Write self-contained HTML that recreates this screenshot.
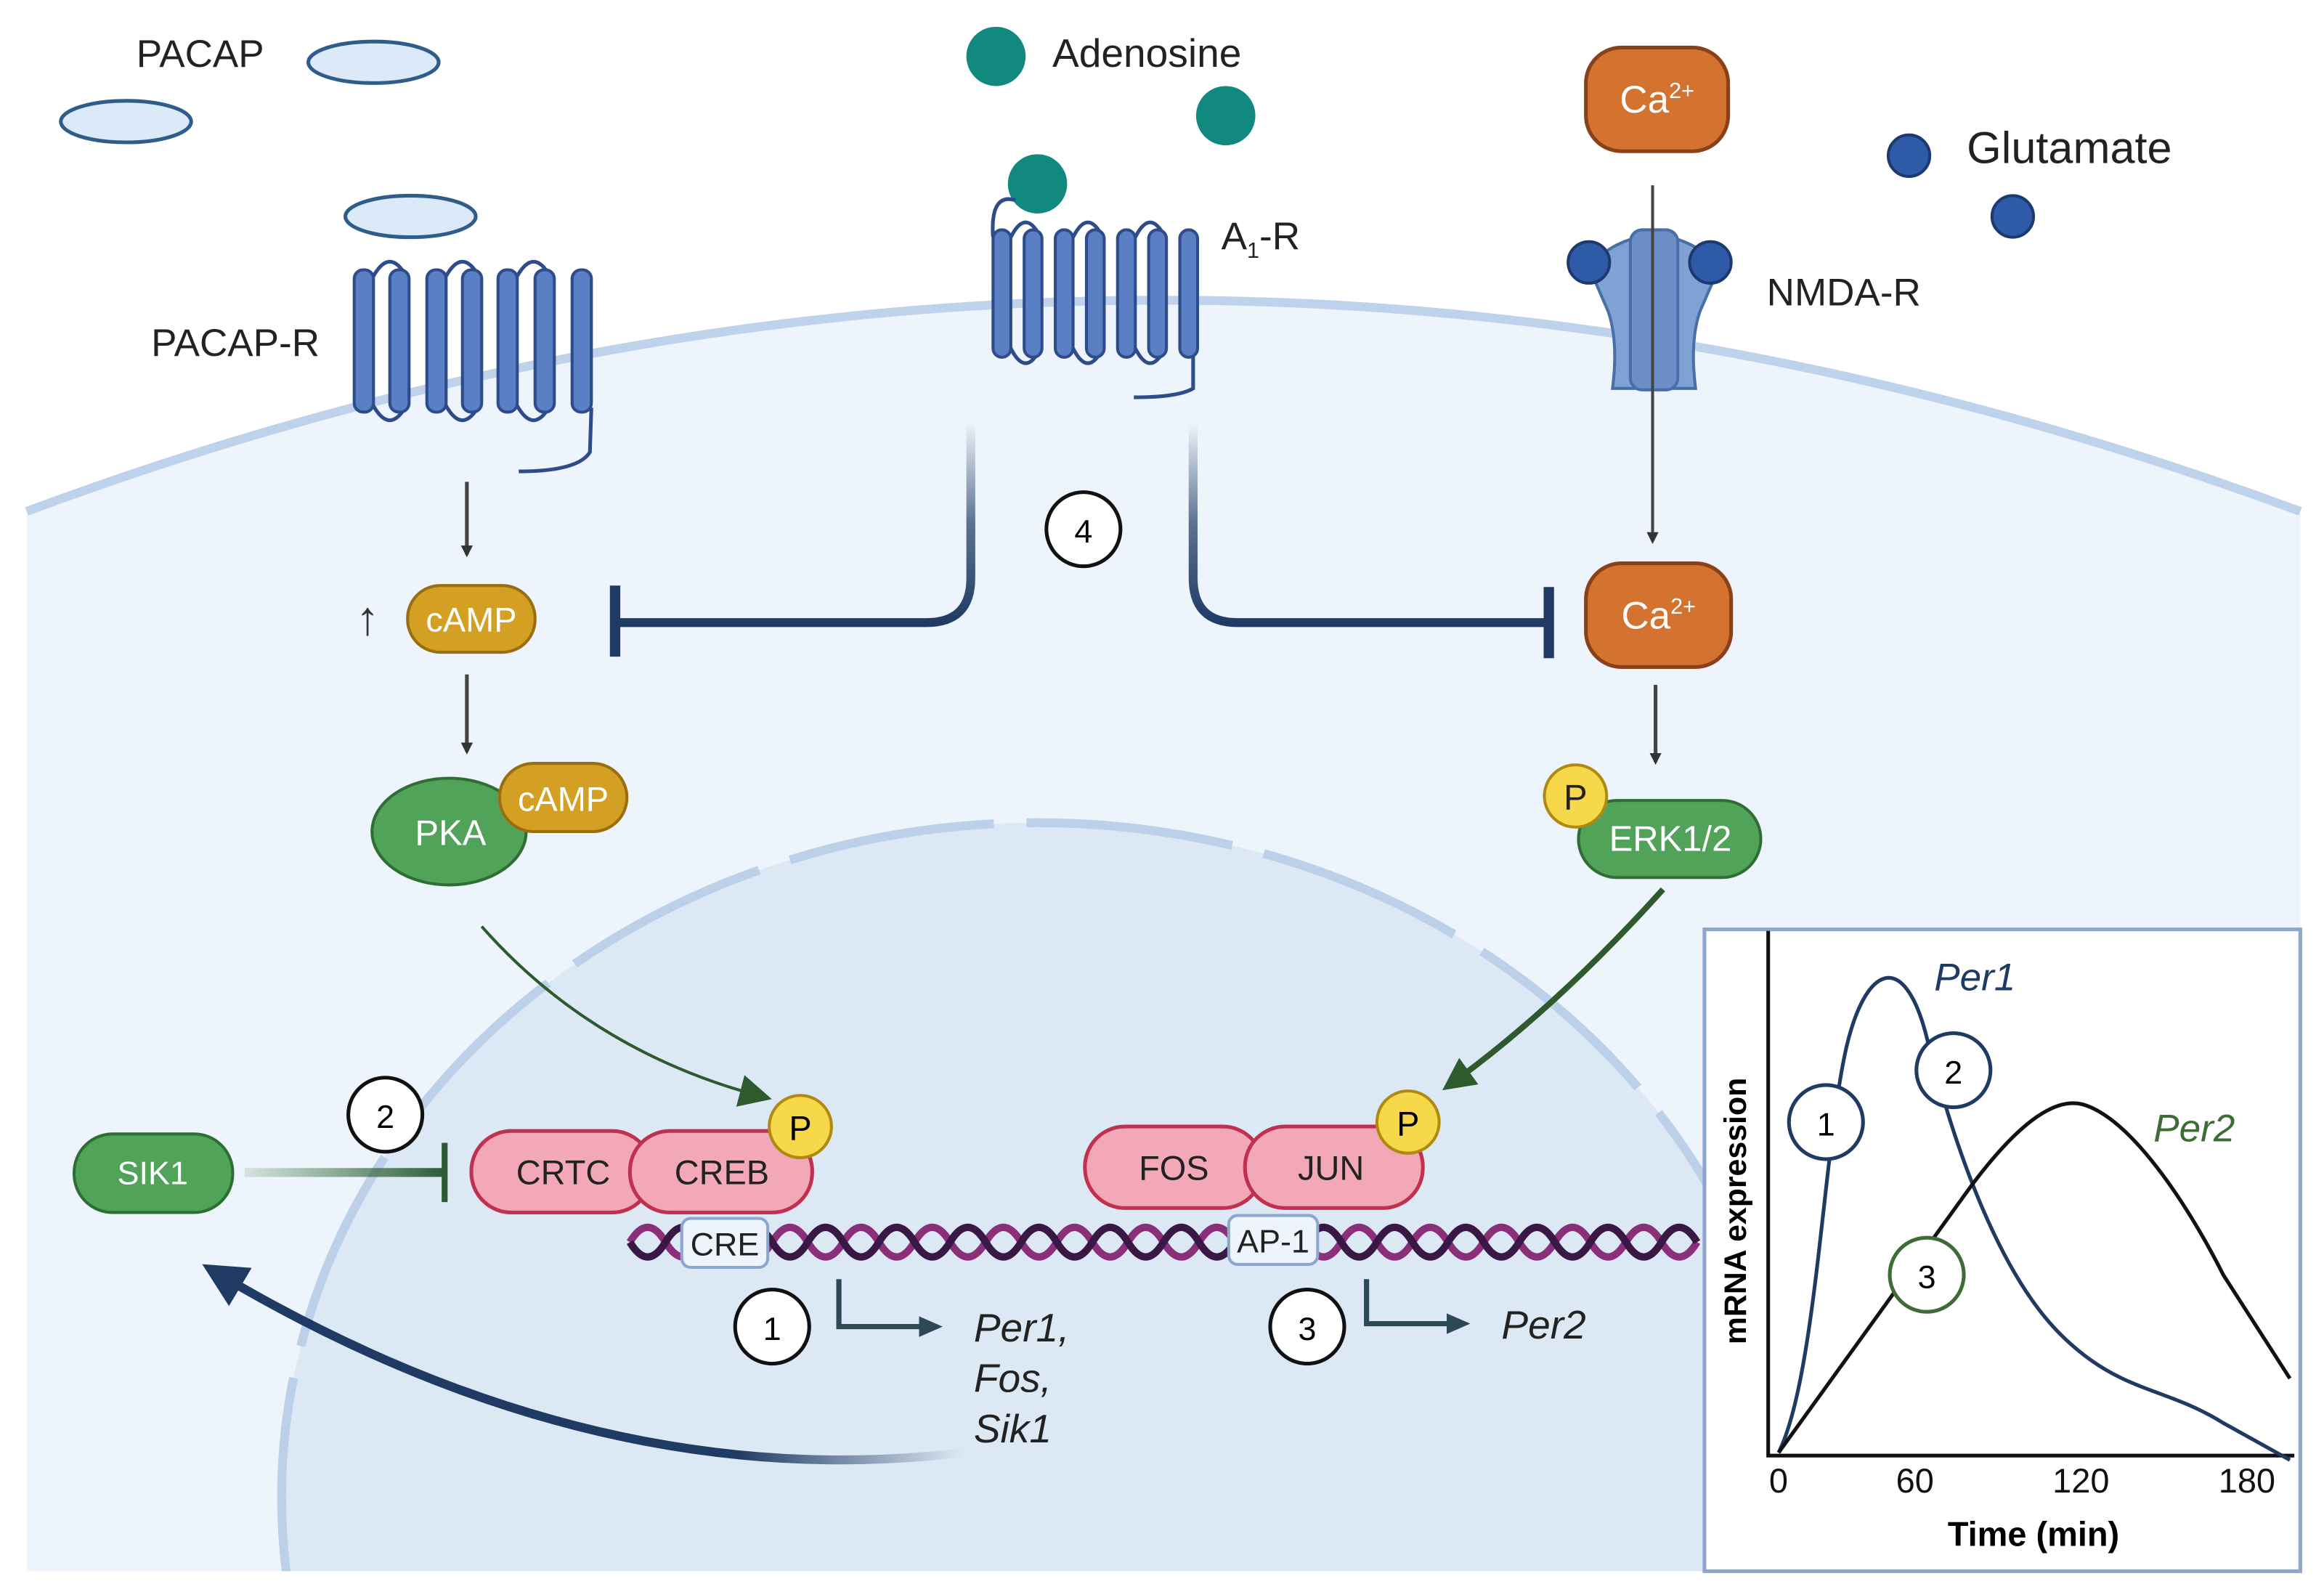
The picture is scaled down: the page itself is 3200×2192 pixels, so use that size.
<!DOCTYPE html>
<html><head><meta charset="utf-8"><style>html,body{margin:0;padding:0;background:#fff;overflow:hidden;width:3200px;height:2192px}svg{display:block}text{font-family:"Liberation Sans",sans-serif}</style></head><body>
<svg width="3200" height="2192" viewBox="0 0 1568 1074" xmlns="http://www.w3.org/2000/svg">
<defs>
<linearGradient id="fadeV" gradientUnits="userSpaceOnUse" x1="0" y1="285" x2="0" y2="420"><stop offset="0" stop-color="#1f3b63" stop-opacity="0"/><stop offset="0.5" stop-color="#1f3b63" stop-opacity="0.7"/><stop offset="1" stop-color="#1f3b63"/></linearGradient>
<linearGradient id="fadeS" gradientUnits="userSpaceOnUse" x1="165" y1="0" x2="300" y2="0"><stop offset="0" stop-color="#3e7a45" stop-opacity="0.15"/><stop offset="1" stop-color="#2e5a35"/></linearGradient>
<linearGradient id="fadeB" gradientUnits="userSpaceOnUse" x1="650" y1="0" x2="140" y2="0"><stop offset="0" stop-color="#1f3b63" stop-opacity="0"/><stop offset="0.3" stop-color="#1f3b63"/><stop offset="1" stop-color="#1f3b63"/></linearGradient>
<marker id="ah" markerWidth="8" markerHeight="8" refX="6" refY="4" orient="auto" markerUnits="userSpaceOnUse"><path d="M0,0 L8,4 L0,8 Z" fill="#333"/></marker>
<marker id="ahg" markerWidth="22" markerHeight="22" refX="16" refY="11" orient="auto" markerUnits="userSpaceOnUse"><path d="M0,0 L22,11 L0,22 Z" fill="#2e5a2e"/></marker>
<marker id="ahd" markerWidth="16" markerHeight="14" refX="12" refY="7" orient="auto" markerUnits="userSpaceOnUse"><path d="M0,0 L16,7 L0,14 Z" fill="#2b4a55"/></marker>
<marker id="ahn" markerWidth="30" markerHeight="30" refX="20" refY="15" orient="auto" markerUnits="userSpaceOnUse"><path d="M0,0 L30,15 L0,30 Z" fill="#1f3b63"/></marker>
<clipPath id="cell"><rect x="0" y="0" width="1568" height="1060"/></clipPath>
</defs>
<path d="M18,345 Q784,60 1552,345 L1552,1060 L18,1060 Z" fill="#eef4fc"/>
<path d="M18,345 Q784,60 1552,345" fill="none" stroke="#bed2ec" stroke-width="6"/>
<g clip-path="url(#cell)">
<ellipse cx="700" cy="1010" rx="510" ry="455" fill="#dde8f5" stroke="#bcd0ea" stroke-width="6" stroke-dasharray="140 22"/>
</g>
<text x="92" y="45" font-size="26" fill="#222">PACAP</text>
<ellipse cx="252" cy="42" rx="44" ry="14" fill="#dbe9f8" stroke="#2f5d8a" stroke-width="2.5"/>
<ellipse cx="85" cy="82" rx="44" ry="14" fill="#dbe9f8" stroke="#2f5d8a" stroke-width="2.5"/>
<ellipse cx="277" cy="146" rx="44" ry="14" fill="#dbe9f8" stroke="#2f5d8a" stroke-width="2.5"/>
<text x="102" y="240" font-size="26" fill="#222">PACAP-R</text>
<g stroke="#2e4b8a" stroke-width="2.5" fill="none">
<path d="M251,188 Q263,165 275,188 M300,188 Q312,165 324,188 M348,188 Q360,165 372,188"/>
<path d="M251,272 Q263,295 275,272 M300,272 Q312,295 324,272 M348,272 Q360,295 372,272"/>
<path d="M399,275 L398,305 Q390,318 350,318"/>
</g>
<g fill="#5b7fc4" stroke="#2e4b8a" stroke-width="2">
<rect x="239" y="182" width="13" height="96" rx="6"/><rect x="263" y="182" width="13" height="96" rx="6"/><rect x="288" y="182" width="13" height="96" rx="6"/><rect x="312" y="182" width="13" height="96" rx="6"/><rect x="336" y="182" width="13" height="96" rx="6"/><rect x="361" y="182" width="13" height="96" rx="6"/><rect x="386" y="182" width="13" height="96" rx="6"/>
</g>
<circle cx="672" cy="38" r="20" fill="#12897f"/>
<circle cx="827" cy="78" r="20" fill="#12897f"/>
<circle cx="700" cy="124" r="20" fill="#12897f"/>
<text x="710" y="45" font-size="27" fill="#222">Adenosine</text>
<text x="824" y="168" font-size="26" fill="#222">A<tspan font-size="15" dy="6">1</tspan><tspan dy="-6">-R</tspan></text>
<g stroke="#2e4b8a" stroke-width="2.5" fill="none">
<path d="M670,160 Q668,130 685,135"/>
<path d="M682,160 Q692,140 702,160 M724,160 Q734,140 744,160 M766,160 Q776,140 786,160"/>
<path d="M682,235 Q692,255 702,235 M724,235 Q734,255 744,235 M766,235 Q776,255 786,235"/>
<path d="M805,238 L805,262 Q795,268 765,268"/>
</g>
<g fill="#5b7fc4" stroke="#2e4b8a" stroke-width="2">
<rect x="670" y="155" width="12" height="86" rx="6"/><rect x="691" y="155" width="12" height="86" rx="6"/><rect x="712" y="155" width="12" height="86" rx="6"/><rect x="733" y="155" width="12" height="86" rx="6"/><rect x="754" y="155" width="12" height="86" rx="6"/><rect x="775" y="155" width="12" height="86" rx="6"/><rect x="796" y="155" width="12" height="86" rx="6"/>
</g>
<rect x="1070" y="32" width="96" height="70" rx="24" fill="#d4732f" stroke="#8a4018" stroke-width="2.5"/>
<text x="1118" y="76" font-size="26" fill="#fff" text-anchor="middle">Ca<tspan font-size="15" dy="-10">2+</tspan></text>
<circle cx="1288" cy="105" r="14" fill="#2f5aa8" stroke="#1c3a70" stroke-width="2"/>
<circle cx="1358" cy="146" r="14" fill="#2f5aa8" stroke="#1c3a70" stroke-width="2"/>
<text x="1327" y="110" font-size="30" fill="#222">Glutamate</text>
<text x="1192" y="206" font-size="26" fill="#222">NMDA-R</text>
<g fill="#7fa2d4" stroke="#4a6ea8" stroke-width="2">
<path d="M1072,180 Q1085,165 1105,160 L1105,262 L1088,262 Q1092,230 1085,210 Z"/>
<path d="M1160,180 Q1147,165 1127,160 L1127,262 L1144,262 Q1140,230 1147,210 Z"/>
<rect x="1100" y="155" width="32" height="108" rx="8" fill="#6b8fc6"/>
</g>
<circle cx="1072" cy="177" r="14" fill="#2f5aa8" stroke="#1c3a70" stroke-width="2"/>
<circle cx="1154" cy="177" r="14" fill="#2f5aa8" stroke="#1c3a70" stroke-width="2"/>
<line x1="1115" y1="125" x2="1115" y2="365" stroke="#444" stroke-width="2" marker-end="url(#ah)"/>
<rect x="1070" y="380" width="98" height="70" rx="24" fill="#d4732f" stroke="#8a4018" stroke-width="2.5"/>
<text x="1119" y="424" font-size="26" fill="#fff" text-anchor="middle">Ca<tspan font-size="15" dy="-10">2+</tspan></text>
<line x1="1117" y1="462" x2="1117" y2="514" stroke="#444" stroke-width="2.5" marker-end="url(#ah)"/>
<line x1="315" y1="325" x2="315" y2="374" stroke="#444" stroke-width="2.5" marker-end="url(#ah)"/>
<text x="240" y="428" font-size="32" fill="#333">↑</text>
<rect x="275" y="395" width="86" height="45" rx="22" fill="#d4a023" stroke="#9a6e10" stroke-width="2"/>
<text x="318" y="426" font-size="23" fill="#fff" text-anchor="middle">cAMP</text>
<line x1="315" y1="455" x2="315" y2="507" stroke="#444" stroke-width="2.5" marker-end="url(#ah)"/>
<ellipse cx="303" cy="561" rx="52" ry="36" fill="#52a35a" stroke="#2e6e35" stroke-width="2"/>
<text x="304" y="570" font-size="24" fill="#fff" text-anchor="middle">PKA</text>
<rect x="337" y="515" width="86" height="46" rx="23" fill="#d4a023" stroke="#9a6e10" stroke-width="2"/>
<text x="380" y="547" font-size="23" fill="#fff" text-anchor="middle">cAMP</text>
<rect x="1065" y="540" width="123" height="52" rx="26" fill="#52a35a" stroke="#2e6e35" stroke-width="2"/>
<text x="1127" y="574" font-size="24" fill="#fff" text-anchor="middle">ERK1/2</text>
<circle cx="1063" cy="537" r="21" fill="#f7d84a" stroke="#b08a10" stroke-width="2"/>
<text x="1063" y="546" font-size="24" fill="#222" text-anchor="middle">P</text>
<path d="M655,285 L655,390 Q655,420 625,420 L415,420" fill="none" stroke="url(#fadeV)" stroke-width="6"/>
<line x1="415" y1="395" x2="415" y2="443" stroke="#1f3b63" stroke-width="7"/>
<path d="M805,285 L805,390 Q805,420 835,420 L1045,420" fill="none" stroke="url(#fadeV)" stroke-width="6"/>
<line x1="1045" y1="396" x2="1045" y2="444" stroke="#1f3b63" stroke-width="7"/>
<circle cx="731" cy="357" r="25" fill="#fff" stroke="#111" stroke-width="2.5"/>
<text x="731" y="366" font-size="22" text-anchor="middle">4</text>
<path d="M325,625 Q400,710 515,740" fill="none" stroke="#2e5a2e" stroke-width="2" marker-end="url(#ahg)"/>
<path d="M1122,600 Q1050,680 978,732" fill="none" stroke="#2e5a2e" stroke-width="4" marker-end="url(#ahg)"/>
<g fill="none" stroke-width="5">
<path d="M425,838 Q437,818 449,838 T473,838 T497,838 T521,838 T545,838 T569,838 T593,838 T617,838 T641,838 T665,838 T689,838 T713,838 T737,838 T761,838 T785,838 T809,838 T833,838 T857,838 T881,838 T905,838 T929,838 T953,838 T977,838 T1001,838 T1025,838 T1049,838 T1073,838 T1097,838 T1121,838 T1145,838" stroke="#8a2f7a"/>
<path d="M425,838 Q437,858 449,838 T473,838 T497,838 T521,838 T545,838 T569,838 T593,838 T617,838 T641,838 T665,838 T689,838 T713,838 T737,838 T761,838 T785,838 T809,838 T833,838 T857,838 T881,838 T905,838 T929,838 T953,838 T977,838 T1001,838 T1025,838 T1049,838 T1073,838 T1097,838 T1121,838 T1145,838" stroke="#3a1845"/>
</g>
<rect x="460" y="822" width="58" height="33" rx="6" fill="#eef4fc" stroke="#8ca6d0" stroke-width="2"/>
<text x="489" y="847" font-size="22" text-anchor="middle" fill="#222">CRE</text>
<rect x="829" y="820" width="60" height="33" rx="6" fill="#eef4fc" stroke="#8ca6d0" stroke-width="2"/>
<text x="859" y="845" font-size="22" text-anchor="middle" fill="#222">AP-1</text>
<rect x="318" y="763" width="122" height="55" rx="27" fill="#f3a8b8" stroke="#c0304f" stroke-width="2.5"/>
<text x="380" y="799" font-size="23" text-anchor="middle" fill="#222">CRTC</text>
<rect x="425" y="763" width="123" height="55" rx="27" fill="#f3a8b8" stroke="#c0304f" stroke-width="2.5"/>
<text x="487" y="799" font-size="23" text-anchor="middle" fill="#222">CREB</text>
<circle cx="540" cy="760" r="21" fill="#f7d84a" stroke="#b08a10" stroke-width="2"/>
<text x="540" y="769" font-size="23" text-anchor="middle">P</text>
<rect x="732" y="760" width="120" height="55" rx="27" fill="#f3a8b8" stroke="#c0304f" stroke-width="2.5"/>
<text x="792" y="796" font-size="23" text-anchor="middle" fill="#222">FOS</text>
<rect x="840" y="760" width="120" height="55" rx="27" fill="#f3a8b8" stroke="#c0304f" stroke-width="2.5"/>
<text x="898" y="796" font-size="23" text-anchor="middle" fill="#222">JUN</text>
<circle cx="950" cy="757" r="21" fill="#f7d84a" stroke="#b08a10" stroke-width="2"/>
<text x="950" y="766" font-size="23" text-anchor="middle">P</text>
<circle cx="521" cy="895" r="25" fill="#fff" stroke="#111" stroke-width="2.5"/>
<text x="521" y="904" font-size="22" text-anchor="middle">1</text>
<path d="M566,863 L566,895 L632,895" fill="none" stroke="#2b4a55" stroke-width="3.5" marker-end="url(#ahd)"/>
<g font-size="27" font-style="italic" fill="#222"><text x="657" y="905">Per1,</text><text x="657" y="939">Fos,</text><text x="657" y="973">Sik1</text></g>
<circle cx="882" cy="895" r="25" fill="#fff" stroke="#111" stroke-width="2.5"/>
<text x="882" y="904" font-size="22" text-anchor="middle">3</text>
<path d="M922,863 L922,893 L988,893" fill="none" stroke="#2b4a55" stroke-width="3.5" marker-end="url(#ahd)"/>
<text x="1013" y="903" font-size="27" font-style="italic" fill="#222">Per2</text>
<rect x="50" y="765" width="107" height="53" rx="26" fill="#52a35a" stroke="#2e6e35" stroke-width="2"/>
<text x="103" y="799" font-size="22" fill="#fff" text-anchor="middle">SIK1</text>
<rect x="165" y="788" width="135" height="6" fill="url(#fadeS)"/>
<line x1="300" y1="771" x2="300" y2="811" stroke="#2e5a35" stroke-width="4"/>
<circle cx="260" cy="752" r="25" fill="#fff" stroke="#111" stroke-width="2.5"/>
<text x="260" y="761" font-size="22" text-anchor="middle">2</text>
<path d="M650,980 Q400,1010 145,858" fill="none" stroke="url(#fadeB)" stroke-width="6" marker-end="url(#ahn)"/>
<rect x="1150" y="627" width="402" height="433" fill="#fff" stroke="#8ca6d0" stroke-width="2.5"/>
<path d="M1193,628 L1193,982 L1548,982" fill="none" stroke="#111" stroke-width="2.5"/>
<g font-size="23" fill="#111" text-anchor="middle"><text x="1200" y="1007">0</text><text x="1292" y="1007">60</text><text x="1404" y="1007">120</text><text x="1516" y="1007">180</text></g>
<text x="1372" y="1043" font-size="23" font-weight="bold" text-anchor="middle">Time (min)</text>
<text x="1178" y="817" font-size="21" font-weight="bold" text-anchor="middle" transform="rotate(-90 1178 817)">mRNA expression</text>
<path d="M1200,980 C1225,930 1230,780 1245,710 C1258,650 1285,640 1300,700 C1320,780 1350,860 1390,900 C1430,940 1460,935 1500,960 L1545,985" fill="none" stroke="#1f3b63" stroke-width="2.5"/>
<path d="M1200,980 L1330,800 C1360,760 1385,740 1405,745 C1440,755 1480,820 1500,860 L1545,930" fill="none" stroke="#111" stroke-width="2.5"/>
<circle cx="1232" cy="757" r="25" fill="#fff" stroke="#1f3b63" stroke-width="2.5"/><text x="1232" y="766" font-size="22" text-anchor="middle">1</text>
<circle cx="1318" cy="722" r="25" fill="#fff" stroke="#1f3b63" stroke-width="2.5"/><text x="1318" y="731" font-size="22" text-anchor="middle">2</text>
<circle cx="1300" cy="860" r="25" fill="#fff" stroke="#3e6b36" stroke-width="2.5"/><text x="1300" y="869" font-size="22" text-anchor="middle">3</text>
<text x="1305" y="668" font-size="26" font-style="italic" fill="#1f3b63">Per1</text>
<text x="1453" y="770" font-size="26" font-style="italic" fill="#3e6b36">Per2</text>
</svg>
</body></html>
